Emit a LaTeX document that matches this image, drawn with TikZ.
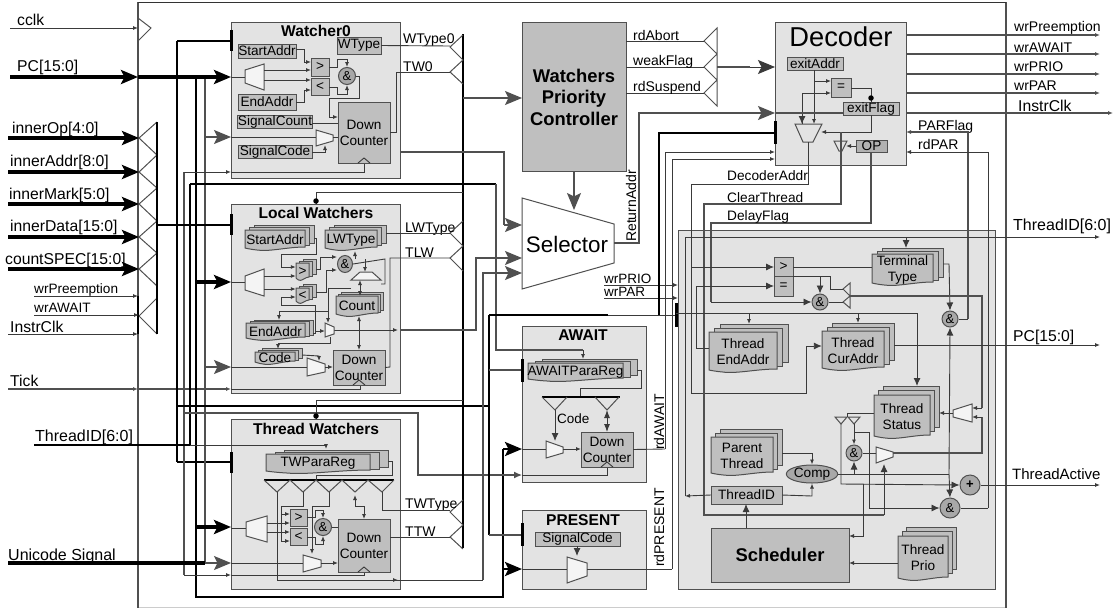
\documentclass[tikz,border=0pt]{standalone}
\usepackage{fontspec}
\setmainfont{Liberation Sans}
\usetikzlibrary{arrows.meta,shapes.geometric}
\definecolor{lg}{HTML}{E3E3E3}
\definecolor{dg}{HTML}{BFBFBF}
\definecolor{og}{HTML}{A8A8A8}
\definecolor{ln}{HTML}{505050}
\definecolor{wg}{HTML}{3A3A3A}
\newcommand{\fz}[2]{\fontsize{#1}{#2}\selectfont}
\tikzset{
  x=1pt,y=-1pt,
  gbox/.style={draw=ln,line width=1pt,fill=lg},
  dbox/.style={draw=ln,line width=1pt,fill=dg},
  obox/.style={draw=ln,line width=1pt,fill=og!90},
  nobox/.style={},
  wn/.style={draw=wg,line width=.9pt},
  wgy/.style={draw=ln,line width=1.2pt},
  wk/.style={draw=black,line width=1.5pt},
  wvk/.style={draw=black,line width=3.5pt},
  wmk/.style={draw=black,line width=2.7pt},
  wsa/.style={-{Latex[length=5,width=4]}},
  wsd/.style={{Latex[length=5,width=4]}-{Latex[length=5,width=4]}},
  wma/.style={-{Latex[length=8,width=7]}},
  wmd/.style={{Latex[length=8,width=6]}-{Latex[length=8,width=6]}},
  wba/.style={-{Stealth[length=17,width=14,inset=3.5]}},
  trap/.style={draw=ln,line width=1pt,fill=#1},
  trap/.default={white!60!lg},
  tri/.style={draw=ln,line width=1pt},
  barv/.style={draw=black,line width=3pt},
  lab/.style={anchor=base west,inner sep=0pt,font=\fz{14}{16}},
  labl/.style={anchor=base west,inner sep=0pt,font=\fz{15.7}{18}},
  ttl/.style={inner sep=0pt,font=\bfseries\fz{15.6}{18}},
  btxt/.style={font=\fz{13.6}{16},align=center},
  andg/.style={circle,draw=ln,line width=1pt,fill=og,inner sep=0pt,minimum size=17pt,font=\fz{13}{15}},
  dotk/.style={circle,fill=black,inner sep=0pt,minimum size=5.5pt},
}
\newcommand{\bx}[7]{\node[#6,btxt,inner sep=0pt,outer sep=0pt,minimum width={(#4-#2)*1pt},minimum height={(#5-#3)*1pt}] (#1) at ({(#2+#4)/2},{(#3+#5)/2}) {#7};}
% name x1 y1 x2 y2 xback yback text
\newcommand{\stk}[8]{%
  \pgfmathsetmacro{\sdx}{(#6-#4)/2}\pgfmathsetmacro{\sdy}{(#3-#7)/2}%
  \filldraw[gbox,fill=dg] ({#2+2*\sdx},#7) rectangle (#6,{#5-2*\sdy-2});
  \filldraw[gbox,fill=dg] ({#2+\sdx},{#7+\sdy}) rectangle ({#6-\sdx},{#5-\sdy-2});
  \filldraw[gbox,fill=dg] (#2,#3) -- (#4,#3) -- (#4,{#5-3}) .. controls ({#4-(#4-#2)*.3},{#5-3}) and ({#2+(#4-#2)*.4},{#5+2}) .. ({#2+(#4-#2)*.2},{#5}) .. controls ({#2+(#4-#2)*.1},{#5-.5}) and (#2,{#5-2}) .. (#2,{#5-2}) -- cycle;
  \node[btxt,inner sep=0pt,minimum width={(#4-#2)*1pt},minimum height={(#5-#3)*1pt}] (#1) at ({(#2+#4)/2},{(#3+#5)/2}) {#8};}
% horizontal trapezoid: name xl xr yl1 yl2 yr1 yr2
\newcommand{\mx}[7]{\filldraw[trap] (#2,#4) -- (#3,#6) -- (#3,#7) -- (#2,#5) -- cycle;
  \coordinate (#1) at ({(#2+#3)/2},{(#4+#5)/2});}
\newcommand{\clk}[2]{\draw[wn] ({#1-6},#2) -- (#1,{#2-5}) -- ({#1+6},#2);}
\begin{document}
\begin{tikzpicture}
\useasboundingbox (0,0) rectangle (1115,608);
\fill[white] (0,0) rectangle (1115,608);
% frame
\draw[draw=black!20,line width=.6pt] (138,607) -- (1006,607);
\draw[wgy] (138,2) -- (138,608);
\draw[wgy] (1006,2) -- (1006,608);
\draw[draw=black!80,line width=1pt] (138,2) -- (1006,2);
% containers
\bx{sch}{678}{230}{995}{589}{gbox}{}
\bx{w0}{231}{22}{400}{178}{gbox}{}
\bx{lw}{231}{204}{400}{393}{gbox}{}
\bx{tw}{231}{419}{400}{589}{gbox}{}
\bx{aw}{522}{326}{646}{482}{gbox}{}
\bx{pr}{522}{510}{646}{589}{gbox}{}
\bx{dec}{775}{22}{906}{165}{gbox}{}
\bx{wpc}{522}{22}{626}{171}{dbox}{}
\node[ttl,font=\bfseries\fz{18.4}{21.5},align=center] (wpct) at (574,97) {Watchers\\Priority\\Controller};
\node[ttl] (w0t) at (316,31) {Watcher0};
\node[ttl] (lwt) at (316,213) {Local Watchers};
\node[ttl] (twt) at (316,429) {Thread Watchers};
\node[ttl] (awt) at (583,335) {AWAIT};
\node[ttl] (prt) at (583,520) {PRESENT};
\node[inner sep=0pt,font=\fz{27.3}{30}] (dect) at (841,37) {Decoder};
% selector
\filldraw[draw=ln,line width=1pt,fill=white] (522,198) -- (614,224) -- (614,263) -- (522,289) -- cycle;
\node[inner sep=0pt,font=\fz{22.4}{25}] (sel) at (567,244) {Selector};
\coordinate (selw) at (522,244);
\coordinate (sele) at (614,243);
\coordinate (seln) at (574,210);
% coordinates of the buses
\coordinate (busA) at (177,41);
\coordinate (busB) at (184,172);
\coordinate (busC) at (190,184);
\coordinate (busD) at (196,77);
\coordinate (busE) at (205,77);
\coordinate (busR) at (463,34);
\coordinate (busI) at (157,122);
\coordinate (busL) at (489,315);
% ---------- left inputs
\draw[tri] (138,18) -- (151,28) -- (138,41);
\draw[tri] (157,122) -- (139,138) -- (157,155) -- (139,172) -- (157,188) -- (139,204) -- (157,221) -- (139,237) -- (157,253) -- (139,269) -- (157,286);
\draw[tri] (157,298) -- (139,316) -- (157,334);
\draw[wmk] (busI) -- (busI|-0,334);
\draw[wk] (138,296) -- (138,334);
\coordinate (icclk) at (10,28);
\coordinate (ipc) at (10,77);
\coordinate (iop) at (8,138);
\coordinate (iad) at (8,172);
\coordinate (imk) at (8,204);
\coordinate (idt) at (8,237);
\coordinate (isp) at (8,269);
\coordinate (iwp) at (34,296);
\coordinate (iwa) at (34,315);
\coordinate (iic) at (8,334);
\coordinate (itk) at (8,389);
\coordinate (iti) at (34,445);
\coordinate (ius) at (8,563);
\draw[wn,wsa] (icclk) -- (138,28);
\draw[wvk,wba] (ipc) -- (138,77);
\draw[wvk,wba] (iop) -- (139,138);
\draw[wvk,wba] (iad) -- (139,172);
\draw[wvk,wba] (imk) -- (139,204);
\draw[wvk,wba] (idt) -- (139,237);
\draw[wvk,wba] (isp) -- (139,269);
\draw[wn,wsa] (iwp) -- (138,296);
\draw[wn,wsa] (iwa) -- (139,315);
\draw[wn,wsa] (iic) -- (138,334);
\draw[wgy,wsa] (itk) -- (138,389);
\draw[wgy,wsa] (138,389) -- (lw.west|-0,389);
\draw[wn] (lw.west|-0,389) -- (360,389) -- (360,385);
\clk{360}{385}
\node[labl] (lcclk) at (17,25) {cclk};
\node[labl] (lpc) at (17,71) {PC[15:0]};
\node[labl] (lop) at (12,133) {innerOp[4:0]};
\node[labl] (lad) at (10,166) {innerAddr[8:0]};
\node[labl] (lmk) at (9,199) {innerMark[5:0]};
\node[labl] (ldt) at (10,231) {innerData[15:0]};
\node[labl] (lsp) at (5,264) {countSPEC[15:0]};
\node[lab,font=\fz{13.6}{16}] (lwp) at (34,293) {wrPreemption};
\node[lab,font=\fz{13.6}{16}] (lwa) at (34,312) {wrAWAIT};
\node[labl] (lic) at (10,332) {InstrClk};
\node[labl] (ltk) at (10,386) {Tick};
\node[labl,font=\fz{16}{18}] (lti) at (35,441) {ThreadID[6:0]};
\node[labl,font=\fz{16}{18}] (lus) at (8,560) {Unicode Signal};
% ---------- vertical buses
\draw[wk] (busA) -- (busA|-0,462);
\draw[wk] (busA|-0,41) -- (w0.west|-0,41);
\draw[wk] (busA|-0,462) -- (tw.west|-0,462);
\draw[wgy] (busB) -- (busB|-0,575);
\draw[wk] (busC) -- (busC|-0,445);
\draw[wgy] (busE) -- (busE|-0,563);
\draw[wmk] (busD) -- (busD|-0,597) -- (503,597) -- (503,449);
\draw[wk] (157,225) -- (lw.west|-0,225);
\draw[wvk,wba] (138,77) -- (w0.west|-0,77);
\draw[wvk,wba] (busD|-0,282) -- (lw.west|-0,282);
\draw[wvk,wba] (busD|-0,527) -- (tw.west|-0,527);
\draw[wgy,wba] (busE|-0,137) -- (w0.west|-0,137);
\draw[wgy,wba] (busE|-0,367) -- (lw.west|-0,367);
\draw[wvk] (ius) -- (busE|-0,563);
\draw[wgy,wba] (busE|-0,563) -- (tw.west|-0,563);
\draw[wk] (iti) -- (busC|-0,445);
\draw[wn,wsa] (busC|-0,445) -- (326,445) -- (326,449);
\draw[wn,wsa] (busB|-0,172) -- (w0.west|-0,172);
\draw[wn] (w0.west|-0,172) -- (364,172) -- (364,163);
\draw[wn,wsa] (busB|-0,575) -- (tw.west|-0,575);
\draw[wn] (tw.west|-0,575) -- (364,575) -- (364,572);
\draw[wgy] (busB|-0,413) -- (418,413) -- (418,475) -- (500,475);
\draw[wgy,wma] (500,475) -- (aw.west|-0,475);
\draw[wn] (aw.west|-0,475) -- (607,475) -- (607,467);
\draw[wk] (busA|-0,406) -- (busL|-0,406);
\draw[wk] (busC) -- (496,184);
\draw[wgy] (496,184) -- (496,350) -- (583,350);
\draw[wn,wsa] (583,350) -- (583,359);
\draw[wk] (busL) -- (busL|-0,535);
\draw[wk] (busL) -- (608,315);
\draw[wn] (608,315) -- (676,315);
\draw[wgy] (busL|-0,370) -- (aw.west|-0,370);
\draw[wgy] (busL|-0,535) -- (pr.west|-0,535);
\draw[barv] (w0.west|-0,30) -- (w0.west|-0,51);
\draw[barv] (lw.west|-0,214) -- (lw.west|-0,235);
\draw[barv] (tw.west|-0,452) -- (tw.west|-0,473);
\draw[barv] (aw.west|-0,359) -- (aw.west|-0,382);
\draw[barv] (pr.west|-0,523) -- (pr.west|-0,546);
\draw[barv] (dec.west|-0,121) -- (dec.west|-0,144);
\draw[barv] (676,303) -- (676,327);
\draw[wmk,wba] (503,449) -- (aw.west|-0,449);
\draw[wmk,wba] (503,569) -- (pr.west|-0,569);
% ---------- right bus of the watchers
\draw[wmk] (busR) -- (busR|-0,548);
\draw[tri] (463,35) -- (450,47) -- (463,60) -- (450,72) -- (463,84);
\draw[tri] (463,221) -- (450,233) -- (463,246) -- (450,258) -- (463,271);
\draw[tri] (463,500) -- (450,512) -- (463,525) -- (450,537) -- (463,549);
\draw[wgy] (busR|-0,98) -- (500,98);
\draw[wgy,wba] (500,98) -- (wpc.west|-0,98);
\draw[wgy] (w0.east|-0,152) -- (504,152) -- (504,225);
\draw[wgy,wba] (504,225) -- (selw|-0,225);
\draw[wn] (busR|-0,192) -- (316,192) -- (316,204);
\draw[wn] (busR|-0,400) -- (316,400) -- (316,419);
\node[dotk] (dl) at (316,201) {};
\node[dotk] (dt) at (316,416) {};
\draw[wgy] (lw.east|-0,330) -- (476,330) -- (476,258) -- (505,258);
\draw[wgy,wba] (505,258) -- (selw|-0,258);
\draw[wn,wsa] (334,330) -- (398,330);
\draw[wgy] (483,580) -- (483,273) -- (505,273);
\draw[wgy,wba] (505,273) -- (selw|-0,273);
\draw[wn] (277,492) -- (277,580) -- (398,580);
\draw[wn,wsa] (277,580) -- (398,580);
\draw[wn] (398,580) -- (483,580);
\node[lab] (lwt0) at (403,43) {WType0};
\node[lab] (ltw0) at (403,71) {TW0};
\node[lab] (llwt) at (405,232) {LWType};
\node[lab] (ltlw) at (405,257) {TLW};
\node[lab] (ltwt) at (405,508) {TWType};
\node[lab] (lttw) at (405,536) {TTW};
% ---------- Watcher0
\bx{w0wt}{337}{37}{381}{54}{dbox}{WType}
\bx{w0sa}{238}{44}{296}{58}{dbox}{StartAddr}
\bx{w0ea}{238}{94}{296}{110}{dbox}{EndAddr}
\bx{w0sn}{238}{115}{312}{128}{dbox}{SignalCount}
\bx{w0sc}{238}{146}{312}{158}{dbox}{SignalCode}
\bx{w0gt}{311}{58}{329}{76}{dbox}{>}
\bx{w0lt}{311}{78}{329}{95}{dbox}{<}
\node[andg] (w0and) at (347,76) {\&};
\bx{w0dc}{338}{102}{390}{163}{dbox}{Down\\Counter}
\clk{364}{163}
\mx{w0m}{245}{264}{70}{83}{64}{90}
\mx{w0n}{316}{333}{130}{146}{135}{141}
\draw[wn] (w0.west|-0,77) -- (245,77);
\draw[wn,wsa] (264,70) -- (w0gt.west|-0,70);
\draw[wn,wsa] (264,80) -- (w0lt.west|-0,80);
\draw[wn,wsa] (w0sa.east|-0,49) -- (304,49) -- (304,62) -- (w0gt.west|-0,62);
\draw[wn,wsa] (w0ea.east|-0,102) -- (304,102) -- (304,90) -- (w0lt.west|-0,90);
\draw[wn,wsa] (w0gt.east|-0,67) -- (337,67) -- (337,59) -- (347,59) -- (w0and.north);
\draw[wn,wsa] (w0lt.east|-0,87) -- (337,87) -- (337,94) -- (347,94) -- (w0and.south);
\draw[wn,wsa] (w0and.east) -- (359,76) -- (359,98) -- (329,98) -- (329,117) -- (w0dc.west|-0,117);
\draw[wn] (w0sn.east|-0,123) -- (w0dc.west|-0,123);
\draw[wn] (w0.west|-0,137) -- (316,137);
\draw[wn] (333,137) -- (w0dc.west|-0,137);
\draw[wn,wsa] (w0sc.east) -- (325,152) -- (325,145);
\draw[wn] (w0wt.east) -- (450,46);
\draw[wn] (w0dc.east|-0,132) -- (396,132) -- (396,72) -- (450,72);
% ---------- Local Watchers
\stk{lwsa}{245}{230}{305}{250}{314}{225}{StartAddr}
\stk{lwty}{325}{230}{377}{250}{386}{225}{LWType}
\stk{lwgt}{296}{263}{309}{280}{316}{259}{>}
\stk{lwlt}{296}{288}{309}{303}{316}{284}{<}
\stk{lwcn}{336}{296}{378}{316}{383}{292}{Count}
\stk{lwea}{246}{323}{305}{340}{313}{320}{EndAddr}
\stk{lwcd}{255}{352}{295}{364}{302}{348}{Code}
\node[andg,ellipse,minimum width=15pt,minimum height=17pt] (lwand) at (345,264) {\&};
\bx{lwdc}{333}{350}{385}{385}{dbox}{Down\\Counter}
\clk{359}{385}
\mx{lwm}{245}{264}{276}{290}{269}{296}
\mx{lwn}{325}{334}{323}{337}{327}{334}
\mx{lwo}{307}{325}{358}{376}{364}{372}
\filldraw[trap] (351,280) -- (381,280) -- (372,272) -- (360,272) -- cycle;
\coordinate (lwh) at (366,276);
\draw[wn] (lw.west|-0,282) -- (245,282);
\draw[wn,wsa] (264,276) -- (lwgt.west|-0,276);
\draw[wn,wsa] (264,289) -- (lwlt.west|-0,289);
\draw[wn,wsa] (314,238) -- (316,238) -- (316,254) -- (281,254) -- (281,267) -- (lwgt.west|-0,267);
\draw[wn,wsa] (313,333) -- (315,333) -- (315,305) -- (281,305) -- (281,297) -- (lwlt.west|-0,297);
\draw[wn,wsa] (315,331) -- (325,331);
\draw[wn,wsa] (316,269) -- (320,269) -- (320,257) -- (lwand.west|-0,257);
\draw[wn,wsa] (316,292) -- (326,292) -- (326,270) -- (lwand.west|-0,270);
\draw[wn] (lwand.east) -- (385,259) -- (385,284) -- (381,284);
\draw[wn,wsa] (355,259) -- (355,251);
\draw[wn,wsa] (365,259) -- (365,272);
\draw[wn,wsd] (360,280) -- (360,296);
\draw[wn,wsa] (351,288) -- (328,288) -- (328,323);
\draw[wn,wsa] (328,311) -- (279,311) -- (279,320);
\draw[wn,wsa] (330,337) -- (330,343) -- (278,343) -- (278,349);
\draw[wn,wsa] (302,355) -- (319,356) -- (319,361);
\draw[wn] (lw.west|-0,367) -- (307,367);
\draw[wn,wsa] (325,367) -- (lwdc.west|-0,367);
\draw[wn,wsd] (359,316) -- (lwdc.north);
\draw[wn] (lwdc.east) -- (390,367) -- (390,258) -- (450,258);
\draw[wn] (386,233) -- (450,233);
% ---------- Thread Watchers
\stk{twr}{266}{454}{370}{473}{388}{450}{TWParaReg}
\draw[wmk] (264,480) -- (394,480);
\draw[tri] (264,480) -- (277,492) -- (290,480) -- (303,492) -- (316,480) -- (329,492) -- (342,480) -- (355,492) -- (368,480) -- (382,492) -- (394,480);
\draw[wn] (388,461) -- (392,461) -- (392,475) -- (316,475) -- (316,480);
\bx{twgt}{290}{509}{307}{526}{dbox}{>}
\bx{twlt}{290}{528}{307}{545}{dbox}{<}
\node[andg] (twand) at (323,527) {\&};
\bx{twdc}{338}{519}{390}{572}{dbox}{Down\\Counter}
\clk{364}{572}
\mx{twm}{246}{267}{522}{536}{516}{542}
\mx{twn}{303}{321}{555}{572}{560}{567}
\draw[wn] (tw.west|-0,528) -- (246,528);
\draw[wn,wsa] (267,523) -- (twgt.west|-0,523);
\draw[wn,wsa] (267,532) -- (twlt.west|-0,532);
\draw[wn,wsa] (303,492) -- (303,506) -- (281,506) -- (281,514) -- (twgt.west|-0,514);
\draw[wn,wsa] (281,514) -- (281,541) -- (twlt.west|-0,541);
\draw[wn,wsa] (329,492) -- (329,506) -- (312,506) -- (312,554);
\draw[wn,wsd] (355,495) -- (355,506) -- (364,506) -- (twdc.north-|364,0);
\draw[wn] (382,492) -- (382,510) -- (450,510);
\draw[wn,wsa] (twgt.east|-0,517) -- (315,517) -- (315,510) -- (323,510) -- (twand.north);
\draw[wn,wsa] (twlt.east|-0,537) -- (315,537) -- (315,544) -- (323,544) -- (twand.south);
\draw[wn] (twand.east) -- (twdc.west|-0,527);
\draw[wn] (tw.west|-0,563) -- (303,563);
\draw[wn,wsa] (321,563) -- (twdc.west|-0,563);
\draw[wn] (twdc.east|-0,537) -- (450,537);
% ---------- Controller, Selector
\draw[wgy,wba] (wpc.south) -- (seln);
\draw[tri] (717,28) -- (704,41) -- (717,54) -- (704,67) -- (717,80) -- (704,93) -- (717,106) -- cycle;
\draw[wn] (wpc.east|-0,41) -- (704,41);
\draw[wn] (wpc.east|-0,67) -- (704,67);
\draw[wn] (wpc.east|-0,93) -- (704,93);
\draw[wgy] (717,67) -- (750,67);
\draw[wn,wba] (750,67) -- (dec.west|-0,67);
\draw[wgy] (sele) -- (639,243) -- (639,113) -- (760,113);
\draw[wgy,wba] (760,113) -- (dec.west|-0,113);
\node[lab] (lra) at (636,242) [rotate=90] {ReturnAddr};
\node[lab] (lab) at (633,40) {rdAbort};
\node[lab] (lwf) at (633,65) {weakFlag};
\node[lab] (lrs) at (633,91) {rdSuspend};
\node[lab,font=\fz{13.5}{16}] (lwpr) at (604,283) {wrPRIO};
\node[lab,font=\fz{13.5}{16}] (lwpa) at (604,296) {wrPAR};
\draw[wn,wsa] (604,285) -- (sch.west|-0,285);
\draw[wn,wsa] (604,298) -- (sch.west|-0,298);
% ---------- AWAIT
\stk{awr}{528}{363}{623}{381}{637}{359}{AWAITParaReg}
\draw[wn] (637,370) -- (641,370) -- (641,388) -- (580,388) -- (580,397);
\draw[wmk] (542,397) -- (620,397);
\draw[tri] (542,397) -- (555,410) -- (567,397);
\draw[tri] (595,397) -- (607,410) -- (619,397);
\bx{awdc}{581}{432}{633}{467}{dbox}{Down\\Counter}
\clk{607}{467}
\mx{awm}{546}{563}{441}{458}{447}{453}
\draw[wn,wma] (555,410) -- (555,441);
\draw[wn] (aw.west|-0,449) -- (546,449);
\draw[wn,wsa] (563,449) -- (awdc.west|-0,449);
\draw[wn,wmd] (607,410) -- (awdc.north);
\node[lab,font=\fz{13.5}{16}] (lcd) at (557,423) {Code};
\draw[wn] (awdc.east) -- (665,449);
\node[lab] (lraw) at (664,450) [rotate=90] {rdAWAIT};
% ---------- PRESENT
\bx{prsc}{535}{532}{620}{546}{dbox}{SignalCode}
\mx{prm}{567}{587}{557}{583}{563}{576}
\draw[wn,wma] (prsc.south-|577,0) -- (577,556);
\draw[wn] (pr.west|-0,569) -- (567,569);
\draw[wn] (587,569) -- (672,569);
\node[lab] (lrpr) at (664,567) [rotate=90] {rdPRESENT};
% ---------- Decoder
\bx{dcea}{787}{57}{843}{70}{dbox}{exitAddr}
\bx{dceq}{831}{78}{851}{97}{dbox}{=}
\bx{dcef}{843}{103}{899}{115}{dbox}{exitFlag}
\bx{dcop}{856}{140}{887}{152}{obox}{OP}
\filldraw[trap=none] (795,124) -- (822,124) -- (813,142) -- (803,142) -- cycle;
\filldraw[trap=none] (834,141) -- (847,141) -- (842,151) -- (839,151) -- cycle;
\coordinate (dcm) at (808,133);
\coordinate (dct) at (841,146);
\draw[wn,wsa] (814,70) -- (814,124);
\draw[wn,wsa] (814,81) -- (dceq.west|-0,81);
\draw[wn,wsa] (802,124) -- (802,93) -- (dceq.west|-0,93);
\draw[wn,wma] (dec.west|-0,113) -- (802,113) -- (802,124);
\draw[wgy] (dec.west|-0,113) -- (dcef.west|-0,113);
\draw[wn] (dceq.east|-0,88) -- (871,88) -- (871,103);
\node[dotk] (ddot) at (871,98) {};
\draw[wn,wsa] (871,115) -- (871,132) -- (821,132);
\draw[wn,wsa] (dcop.west) -- (846,146);
\draw[wn] (808,142) -- (808,184) -- (691,184) -- (691,393) -- (806,393) -- (806,346);
\draw[wgy] (841,132) -- (841,204) -- (704,204) -- (704,515) -- (884,515);
\draw[wgy] (dcop.south-|871,0) -- (871,223) -- (711,223) -- (711,302);
\draw[draw=black,line width=1.2pt] (dec.west|-0,133) -- (659,133) -- (659,315);
\draw[wn,wsa] (665,449) -- (665,152) -- (dec.west|-0,152);
\draw[wn,wsa] (672,569) -- (672,159) -- (dec.west|-0,159);
\node[lab,font=\fz{13.7}{16}] (lda) at (727,180) {DecoderAddr};
\node[lab,font=\fz{13.7}{16}] (lct) at (727,202) {ClearThread};
\node[lab,font=\fz{13.7}{16}] (ldf) at (727,220) {DelayFlag};
\foreach \yy/\nm/\tx in {35/rp/wrPreemption,54/ra/wrAWAIT,74/rq/wrPRIO,93/rr/wrPAR}{
  \coordinate (o\nm) at (1100,\yy);
  \draw[wgy,wsa] (dec.east|-0,\yy) -- (o\nm);
}
\coordinate (oic) at (1113,113);
\draw[wgy,wsa] (dec.east|-0,113) -- (oic);
\node[lab] (lrp) at (1014,31) {wrPreemption};
\node[lab] (lra2) at (1014,52) {wrAWAIT};
\node[lab] (lrq) at (1014,71) {wrPRIO};
\node[lab] (lrr) at (1014,90) {wrPAR};
\node[labl] (lrc) at (1018,111) {InstrClk};
\node[lab] (lpf) at (918,130) {PARFlag};
\node[lab] (lrd) at (918,149) {rdPAR};
\draw[wgy,wsa] (968,319) -- (968,132) -- (dec.east|-0,132);
\draw[wn,wsa] (988,508) -- (988,152) -- (dec.east|-0,152);
% ---------- thread section
\coordinate (otid) at (1100,237);
\coordinate (opc) at (1100,345);
\coordinate (oact) at (1100,485);
\draw[wn,wsa] (685,496) -- (685,237) -- (otid);
\node[labl,font=\fz{16}{18}] (lot) at (1013,230) {ThreadID[6:0]};
\node[labl] (lop2) at (1013,341) {PC[15:0]};
\node[labl,font=\fz{15}{18}] (loa) at (1012,479) {ThreadActive};
\bx{sgt}{774}{257}{793}{276}{dbox}{>}
\bx{seq}{774}{276}{793}{296}{dbox}{=}
\stk{stt}{872}{254}{933}{285}{943}{248}{Terminal\\Type}
\stk{ste}{709}{332}{777}{372}{788}{324}{Thread\\EndAddr}
\stk{scu}{822}{331}{884}{370}{894}{323}{Thread\\CurAddr}
\stk{sst}{874}{395}{930}{438}{939}{386}{Thread\\Status}
\stk{spt}{711}{437}{773}{475}{782}{429}{Parent\\Thread}
\stk{spr}{898}{536}{948}{580}{956}{527}{Thread\\Prio}
\bx{sid}{711}{486}{782}{504}{dbox}{ThreadID}
\bx{ssc}{711}{528}{849}{582}{dbox}{\bfseries\fz{18.4}{20}Scheduler}
\node[ellipse,draw=ln,line width=1pt,fill=og,inner sep=0pt,minimum width=46pt,minimum height=18pt,font=\fz{13.6}{15}] (scp) at (812,474) {Comp};
\node[andg,minimum size=16pt] (sa1) at (820,302) {\&};
\node[andg,minimum size=16pt] (sa2) at (950,319) {\&};
\node[andg,minimum size=16pt] (sa3) at (854,453) {\&};
\node[andg,minimum size=20pt] (sa4) at (950,508) {\&};
\node[andg,minimum size=20pt,font=\bfseries\fz{13}{15}] (spl) at (970,485) {+};
\draw[tri] (850,283) -- (843,289) -- (850,296) -- (843,302) -- (850,308) -- cycle;
\draw[tri] (835,417) -- (847,417) -- (841,424) -- cycle;
\draw[tri] (848,417) -- (860,417) -- (854,424) -- cycle;
\mx{sm1}{953}{972}{410}{417}{404}{422}
\mx{sm2}{876}{893}{447}{463}{452}{457}
\draw[wn,wma] (691,267) -- (sgt.west|-0,267);
\draw[wn] (sgt.east|-0,267) -- (872,267);
\draw[wn] (seq.east|-0,276) -- (830,276) -- (830,289) -- (843,289);
\draw[wn,wma] (820,276) -- (sa1.north);
\draw[wn,wma] (711,302) -- (sa1.west);
\draw[wn] (sa1.east) -- (843,302);
\draw[wn,wma] (ste.west|-0,348) -- (696,348) -- (696,286) -- (seq.west|-0,286);
\draw[wn,wma] (806,346) -- (scu.west|-0,346);
\draw[wn] (676,313) -- (917,313);
\draw[wn,wma] (917,313) -- (917,386);
\draw[wn,wsa] (749,313) -- (749,324);
\draw[wn,wsa] (858,313) -- (858,323);
\draw[wn,wma] (906,237) -- (906,248);
\draw[wn,wma] (943,264) -- (949,264) -- (sa2.north);
\draw[wn] (sa2.east) -- (968,319);
\draw[wn,wma] (949,474) -- (sa2.south);
\draw[wn,wma] (949,474) -- (sa4.north);
\draw[wn] (scp.east) -- (949,474);
\draw[wn,wma] (854,474) -- (sa3.south);
\draw[wgy] (850,296) -- (982,296) -- (982,408);
\draw[wn,wsa] (982,408) -- (972,408);
\draw[wgy] (893,453) -- (982,453) -- (982,417);
\draw[wn,wsa] (982,417) -- (972,417);
\draw[wn,wsa] (953,413) -- (939,413);
\draw[wn] (sst.west|-0,413) -- (847,413) -- (847,417);
\draw[wn,wma] (841,424) -- (841,484) -- (spl.west);
\draw[wn,wsa] (854,424) -- (sa3.north);
\draw[wn,wma] (854,432) -- (869,432) -- (869,508) -- (sa4.west);
\draw[wn] (sa3.east) -- (876,453);
\draw[wn,wma] (884,515) -- (884,464);
\draw[wn,wsa] (863,484) -- (863,536) -- (ssc.east|-0,536);
\draw[wn,wsa] (spr.west|-0,563) -- (ssc.east|-0,563);
\draw[wn] (sa4.east) -- (988,508);
\draw[wn,wsa] (spl.east) -- (oact);
\draw[wn,wsa] (894,345) -- (opc);
\draw[wn,wsa] (sid.west) -- (685,496);
\draw[wn,wma] (ssc.north-|746,0) -- (sid.south-|746,0);
\draw[wn,wsa] (sid.east) -- (812,496) -- (scp.south);
\draw[wn,wsa] (782,453) -- (812,453) -- (scp.north);
\end{tikzpicture}
\end{document}
